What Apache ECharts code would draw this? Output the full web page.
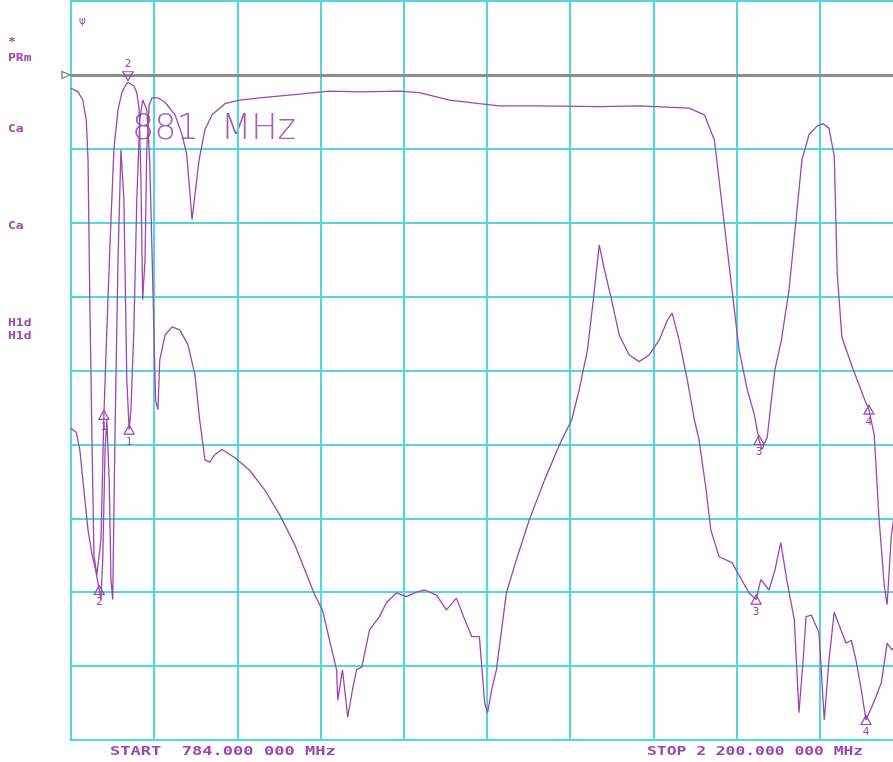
<!DOCTYPE html>
<html><head><meta charset="utf-8">
<script src="https://cdn.jsdelivr.net/npm/echarts@6/dist/echarts.min.js"></script>
<style>html,body{margin:0;padding:0;background:#fff}#c{width:893px;height:762px}</style>
</head><body><div id="c"></div>
<script>
// Frequency (MHz) and level (dB, 10 dB/div, reference line = 0 dB)
const startMHz = 784, stopMHz = 2200;
const trace1Freq = [784,796,804,810,813,816,820,823,828,835,840,845,850,857,864,871,877,881,891,896,900,903,906,910,913,917,922,932,944,961,973,981,986,990,995,1002,1012,1024,1046,1071,1105,1173,1224,1275,1343,1377,1428,1479,1513,1581,1683,1751,1836,1862,1879,1891,1901,1913,1921,1935,1947,1955,1960,1969,1976,1982,1993,2006,2018,2028,2040,2054,2064,2074,2083,2088,2096,2113,2125,2135,2142,2151,2159,2168,2173,2180,2193,2200];
const trace1Level = [-1.8,-2.3,-3.4,-6.1,-11.5,-30.4,-50.7,-65.0,-67.7,-62.9,-46.0,-34.5,-23.7,-10.1,-4.7,-2.3,-1.4,-1.0,-1.5,-2.4,-4.7,-14.2,-30.4,-25.0,-10.1,-4.1,-3.1,-3.1,-3.7,-5.4,-8.1,-10.8,-15.6,-19.6,-16.2,-11.5,-7.4,-5.4,-3.9,-3.4,-3.1,-2.6,-2.2,-2.3,-2.2,-2.4,-3.4,-3.9,-4.2,-4.2,-4.3,-4.2,-4.5,-5.4,-8.8,-16.9,-23.7,-31.8,-37.2,-42.6,-46.0,-49.4,-50.7,-49.0,-44.0,-39.9,-35.9,-29.1,-19.6,-11.5,-8.1,-6.9,-6.6,-7.2,-11.0,-26.8,-35.5,-39.4,-41.9,-44.0,-45.3,-48.7,-59.8,-69.0,-71.7,-62.5,-54.8,-52.0];
const trace2Freq = [784,793,799,806,813,820,826,832,835,838,842,845,849,852,855,859,864,869,874,879,883,886,891,896,901,906,913,918,923,928,932,935,944,956,969,983,995,1003,1012,1020,1029,1041,1063,1088,1114,1139,1165,1182,1199,1212,1224,1236,1238,1246,1255,1263,1270,1279,1292,1309,1321,1338,1355,1372,1386,1406,1423,1440,1454,1466,1479,1488,1493,1500,1508,1525,1542,1564,1590,1615,1636,1649,1663,1673,1683,1692,1704,1717,1734,1751,1768,1785,1799,1807,1819,1833,1845,1853,1865,1873,1887,1909,1921,1938,1950,1958,1972,1982,1992,2003,2015,2023,2030,2035,2044,2057,2066,2074,2083,2091,2103,2112,2120,2129,2137,2147,2163,2173,2181,2198];
const trace2Level = [-47.8,-48.4,-50.7,-56.2,-61.6,-65.0,-67.0,-69.7,-71.0,-65.6,-50.7,-46.7,-54.8,-68.3,-71.0,-48.0,-25.0,-10.1,-16.9,-41.3,-48.0,-45.3,-34.5,-16.9,-6.1,-3.4,-4.7,-11.5,-27.7,-44.0,-45.3,-38.6,-35.2,-34.1,-34.5,-36.5,-40.6,-46.7,-52.1,-52.4,-51.4,-50.7,-51.8,-53.5,-56.2,-59.5,-63.6,-67.0,-70.4,-72.4,-76.5,-80.5,-84.6,-80.5,-86.9,-83.2,-80.5,-80.1,-75.1,-73.3,-71.4,-70.1,-70.6,-70.0,-69.7,-70.4,-72.4,-70.8,-73.7,-76.0,-76.0,-85.0,-86.3,-83.2,-80.5,-70.1,-65.6,-60.2,-54.8,-50.1,-46.7,-42.6,-37.2,-30.4,-23.0,-26.4,-30.4,-35.2,-37.9,-38.8,-37.9,-35.9,-33.2,-32.2,-35.9,-41.3,-46.7,-49.4,-56.2,-61.6,-65.2,-66.0,-67.7,-70.1,-71.0,-68.3,-69.7,-67.0,-63.3,-68.7,-73.7,-86.3,-79.2,-73.3,-73.1,-75.5,-87.3,-79.2,-72.7,-74.4,-76.9,-76.5,-79.2,-83.2,-87.3,-85.5,-82.3,-76.9,-77.8,-76.5];
// markers: label, frequency, level
const markers1Label = ['1','2','3','4'];
const markers1Freq = [840,881,1955,2142];
const markers1Level = [-46.0,-1.0,-49.4,-45.3];
const markers2Label = ['1','2','3','4'];
const markers2Freq = [883,832,1950,2137];
const markers2Level = [-48.0,-69.7,-71.0,-87.3];
const leftLabels = ['*','PRm','Ca','Ca','H1d','H1d'];
const leftLabelLevels = [4.3, 2.1, -7.5, -20.7, -33.7, -35.5];
const activeMarkerText = '881  MHz';
const startText = 'START  784.000 000 MHz';
const stopText = 'STOP 2 200.000 000 MHz';

const purple = '#9a48b0';
const cyan = '#4fd8e2';
const chart = echarts.init(document.getElementById('c'), null, {renderer:'canvas'});

function mk(labels, f, v, series){
  return labels.map((l,i)=>{
    const up = (series===1 && l==='2');
    return {
      name:l, coord:[f[i], v[i]], value:l,
      symbol:'triangle', symbolSize:[10,9],
      symbolRotate: up ? 180 : 0,
      symbolOffset: up ? [0,-6] : [0,0],
      itemStyle:{color:'rgba(255,255,255,0)', borderColor:purple, borderWidth:1.2},
      label:{show:true, formatter:l, position: up ? 'top' : 'bottom', distance:2,
        color:purple, fontSize:11, fontFamily:'DejaVu Sans Mono'}
    };
  });
}

const option = {
  animation:false,
  backgroundColor:'#ffffff',
  grid:{left:71, top:1, width:832, height:739, containLabel:false, outerBoundsMode:'none'},
  xAxis:[
    {type:'value', min:startMHz, max:stopMHz, show:false},
    {type:'value', min:0, max:10, interval:1, position:'bottom',
     axisLine:{show:true, onZero:false, lineStyle:{color:cyan, width:2}},
     axisTick:{show:false}, axisLabel:{show:false},
     splitLine:{show:true, lineStyle:{color:cyan, width:2}}}
  ],
  yAxis:{type:'value', min:-90, max:10, interval:10,
    axisLine:{show:true, lineStyle:{color:cyan, width:2}},
    axisTick:{show:false}, axisLabel:{show:false},
    splitLine:{show:true, lineStyle:{color:cyan, width:2}}},
  series:[
    {type:'line', xAxisIndex:0, data:trace1Freq.map((f,i)=>[f,trace1Level[i]]),
     showSymbol:false, lineStyle:{color:purple, width:1.3}, z:3,
     markLine:{silent:true, symbol:['none','none'], label:{show:false},
       lineStyle:{color:'#8c8c8c', width:3, type:'solid'}, data:[{yAxis:0}]},
     markPoint:{data:mk(markers1Label, markers1Freq, markers1Level, 1).concat([
       {coord:[startMHz,0], symbol:'triangle', symbolSize:[7,8], symbolRotate:-90, symbolOffset:[-5,0],
        itemStyle:{color:'#fff', borderColor:'#777', borderWidth:1.2}, label:{show:false}}])}},
    {type:'line', xAxisIndex:0, data:trace2Freq.map((f,i)=>[f,trace2Level[i]]),
     showSymbol:false, lineStyle:{color:purple, width:1.3}, z:3,
     markPoint:{data:mk(markers2Label, markers2Freq, markers2Level, 2)}}
  ],
  graphic:[]
};
chart.setOption(option);

// text annotations placed via the chart's scales
const g = [];
leftLabels.forEach((t,i)=>{
  const p = chart.convertToPixel({xAxisIndex:0, yAxisIndex:0},[startMHz, leftLabelLevels[i]]);
  g.push({type:'text', left:8, top:p[1]-6, scaleX:1.3, style:{text:t, fill:purple, font:'bold 10px "DejaVu Sans Mono"'}});
});
g.push({type:'text', left:79, top:16, style:{text:'ψ', fill:purple, font:'10px "DejaVu Sans"'}});
g.push({type:'text', left:132, top:112, style:{text:activeMarkerText, fill:'#a060c0', font:'200 35px "DejaVu Sans"'}});
g.push({type:'text', left:110, top:746, scaleX:1.42, style:{text:startText, fill:purple, font:'bold 12px "DejaVu Sans Mono"'}});
g.push({type:'text', left:647, top:746, scaleX:1.36, style:{text:stopText, fill:purple, font:'bold 12px "DejaVu Sans Mono"'}});
chart.setOption({graphic:g});
</script></body></html>
